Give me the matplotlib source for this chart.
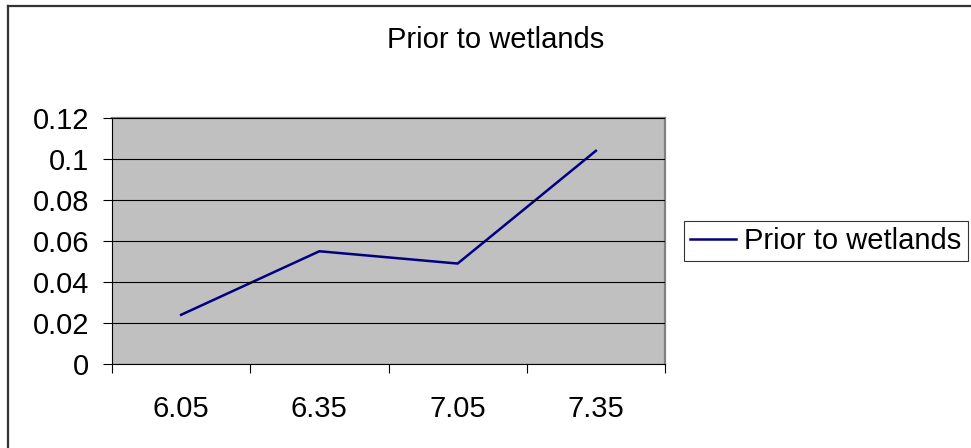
import numpy as np
import matplotlib
matplotlib.use("Agg")
import matplotlib.pyplot as plt
from matplotlib.lines import Line2D

plt.rcParams['font.family'] = ['Liberation Sans', 'DejaVu Sans']

# sample times and measured values
categories = ["6.05", "6.35", "7.05", "7.35"]
values = [0.024, 0.055, 0.049, 0.104]
series_name = "Prior to wetlands"
y_ticks = [0, 0.02, 0.04, 0.06, 0.08, 0.1, 0.12]
y_labels = ["0", "0.02", "0.04", "0.06", "0.08", "0.1", "0.12"]

W, H = 971, 448
fig = plt.figure(figsize=(W / 100, H / 100), dpi=100)
fs = 21

ax = fig.add_axes([112 / W, 1 - 364 / H, 553 / W, 246 / H])
ax.set_facecolor('#c0c0c0')

x = np.arange(len(categories))
ax.plot(x, values, color='#000080', lw=1.8)

ax.set_xlim(-0.5, len(categories) - 0.5)
ax.set_ylim(0, 0.12)
ax.set_yticks(y_ticks)
ax.set_yticklabels(y_labels, fontsize=fs)
ax.set_xticks(x)
ax.set_xticklabels(categories, fontsize=fs)
ax.set_xticks(np.arange(len(categories) + 1) - 0.5, minor=True)
ax.tick_params(axis='x', which='major', length=0, pad=22 * 0.72 + 6.5)
ax.tick_params(axis='x', which='minor', length=6.5, width=0.8, direction='out')
ax.tick_params(axis='y', length=6.5, width=0.8, pad=10, direction='out')

ax.grid(axis='y', color='black', lw=0.8)
ax.set_axisbelow(False)
for s in ['top', 'right']:
    ax.spines[s].set_color('#808080')
    ax.spines[s].set_linewidth(1.6)
for s in ['left', 'bottom']:
    ax.spines[s].set_color('black')
    ax.spines[s].set_linewidth(0.8)

fig.text(496 / W, 1 - 40 / H, series_name, ha='center', va='center', fontsize=fs)

# legend box
handle = Line2D([], [], color='#000080', lw=1.8)
leg = fig.legend([handle], [series_name], loc='center left',
                 bbox_to_anchor=(684 / W, 1 - 241 / H), fontsize=fs,
                 frameon=True, fancybox=False, handlelength=1.55,
                 handletextpad=0.3, borderpad=0.22, borderaxespad=0)
leg.get_frame().set_edgecolor('black')
leg.get_frame().set_linewidth(0.8)

# outer chart border (runs off the right and bottom edges)
fig.add_artist(Line2D([8 / W, 8 / W], [1 - 6 / H, -0.05], color='#333333',
                      lw=1.6, transform=fig.transFigure, clip_on=False))
fig.add_artist(Line2D([8 / W, 1.05], [1 - 6 / H, 1 - 6 / H], color='#333333',
                      lw=1.6, transform=fig.transFigure, clip_on=False))

fig.savefig("out.png", dpi=100)
